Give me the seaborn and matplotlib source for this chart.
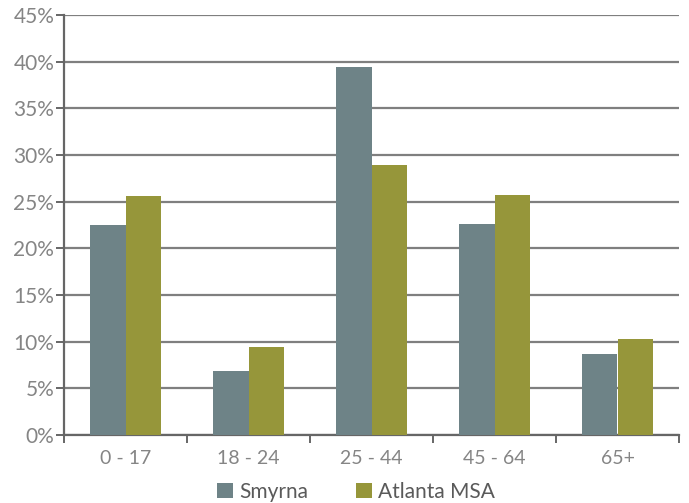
import matplotlib
matplotlib.use("Agg")
import matplotlib.pyplot as plt
import seaborn as sns
import pandas as pd
import numpy as np
from matplotlib.ticker import FixedLocator, PercentFormatter

categories = ["0 - 17", "18 - 24", "25 - 44", "45 - 64", "65+"]
smyrna = [22.5, 6.9, 39.4, 22.6, 8.7]
atlanta = [25.6, 9.4, 28.9, 25.7, 10.3]
series = ["Smyrna", "Atlanta MSA"]
colors = ["#6E8387", "#96963A"]
yticks = [0, 5, 10, 15, 20, 25, 30, 35, 40, 45]

df = pd.DataFrame({
    "Age": categories * 2,
    "Value": smyrna + atlanta,
    "Series": [series[0]] * len(categories) + [series[1]] * len(categories),
})

sns.set_style("white")
plt.rcParams["font.family"] = ["Lato", "DejaVu Sans"]

fig = plt.figure(figsize=(6.89, 5.03), dpi=100)
ax = fig.add_axes([64 / 689, 68 / 503, (679 - 64) / 689, (435 - 15) / 503])

sns.barplot(data=df, x="Age", y="Value", hue="Series", palette=colors,
            width=0.58, saturation=1, ax=ax, zorder=3, edgecolor="none")

txt = "#858585"
ax.set_ylim(0, 45)
ax.set_xlim(-0.5, 4.5)
ax.set_yticks(yticks)
ax.yaxis.set_major_formatter(PercentFormatter(decimals=0))
ax.grid(axis="y", color="#7f7f7f", linewidth=1.6, zorder=0)
ax.set_axisbelow(True)
ax.set_xlabel("")
ax.set_ylabel("")

for s in ["top", "right"]:
    ax.spines[s].set_visible(False)
for s in ["left", "bottom"]:
    ax.spines[s].set_color("#666666")
    ax.spines[s].set_linewidth(1.6)

ax.tick_params(axis="y", which="major", length=6, width=1.4, color="#666666",
               labelsize=15, labelcolor=txt, pad=1, left=True)
ax.tick_params(axis="x", which="major", length=0, labelsize=14, labelcolor=txt, pad=11)
ax.xaxis.set_minor_locator(FixedLocator(np.arange(-0.5, 5.0, 1.0)))
ax.tick_params(axis="x", which="minor", length=6, width=1.4, color="#666666", bottom=True)

handles, labels = ax.get_legend_handles_labels()
ax.legend(handles, labels, loc="center", bbox_to_anchor=(0.475, -0.135),
          ncol=2, frameon=False, fontsize=15, labelcolor="#5a5a5a",
          handlelength=0.75, handleheight=0.75, handletextpad=0.3, columnspacing=2.3)

fig.savefig("out.png", dpi=100)
